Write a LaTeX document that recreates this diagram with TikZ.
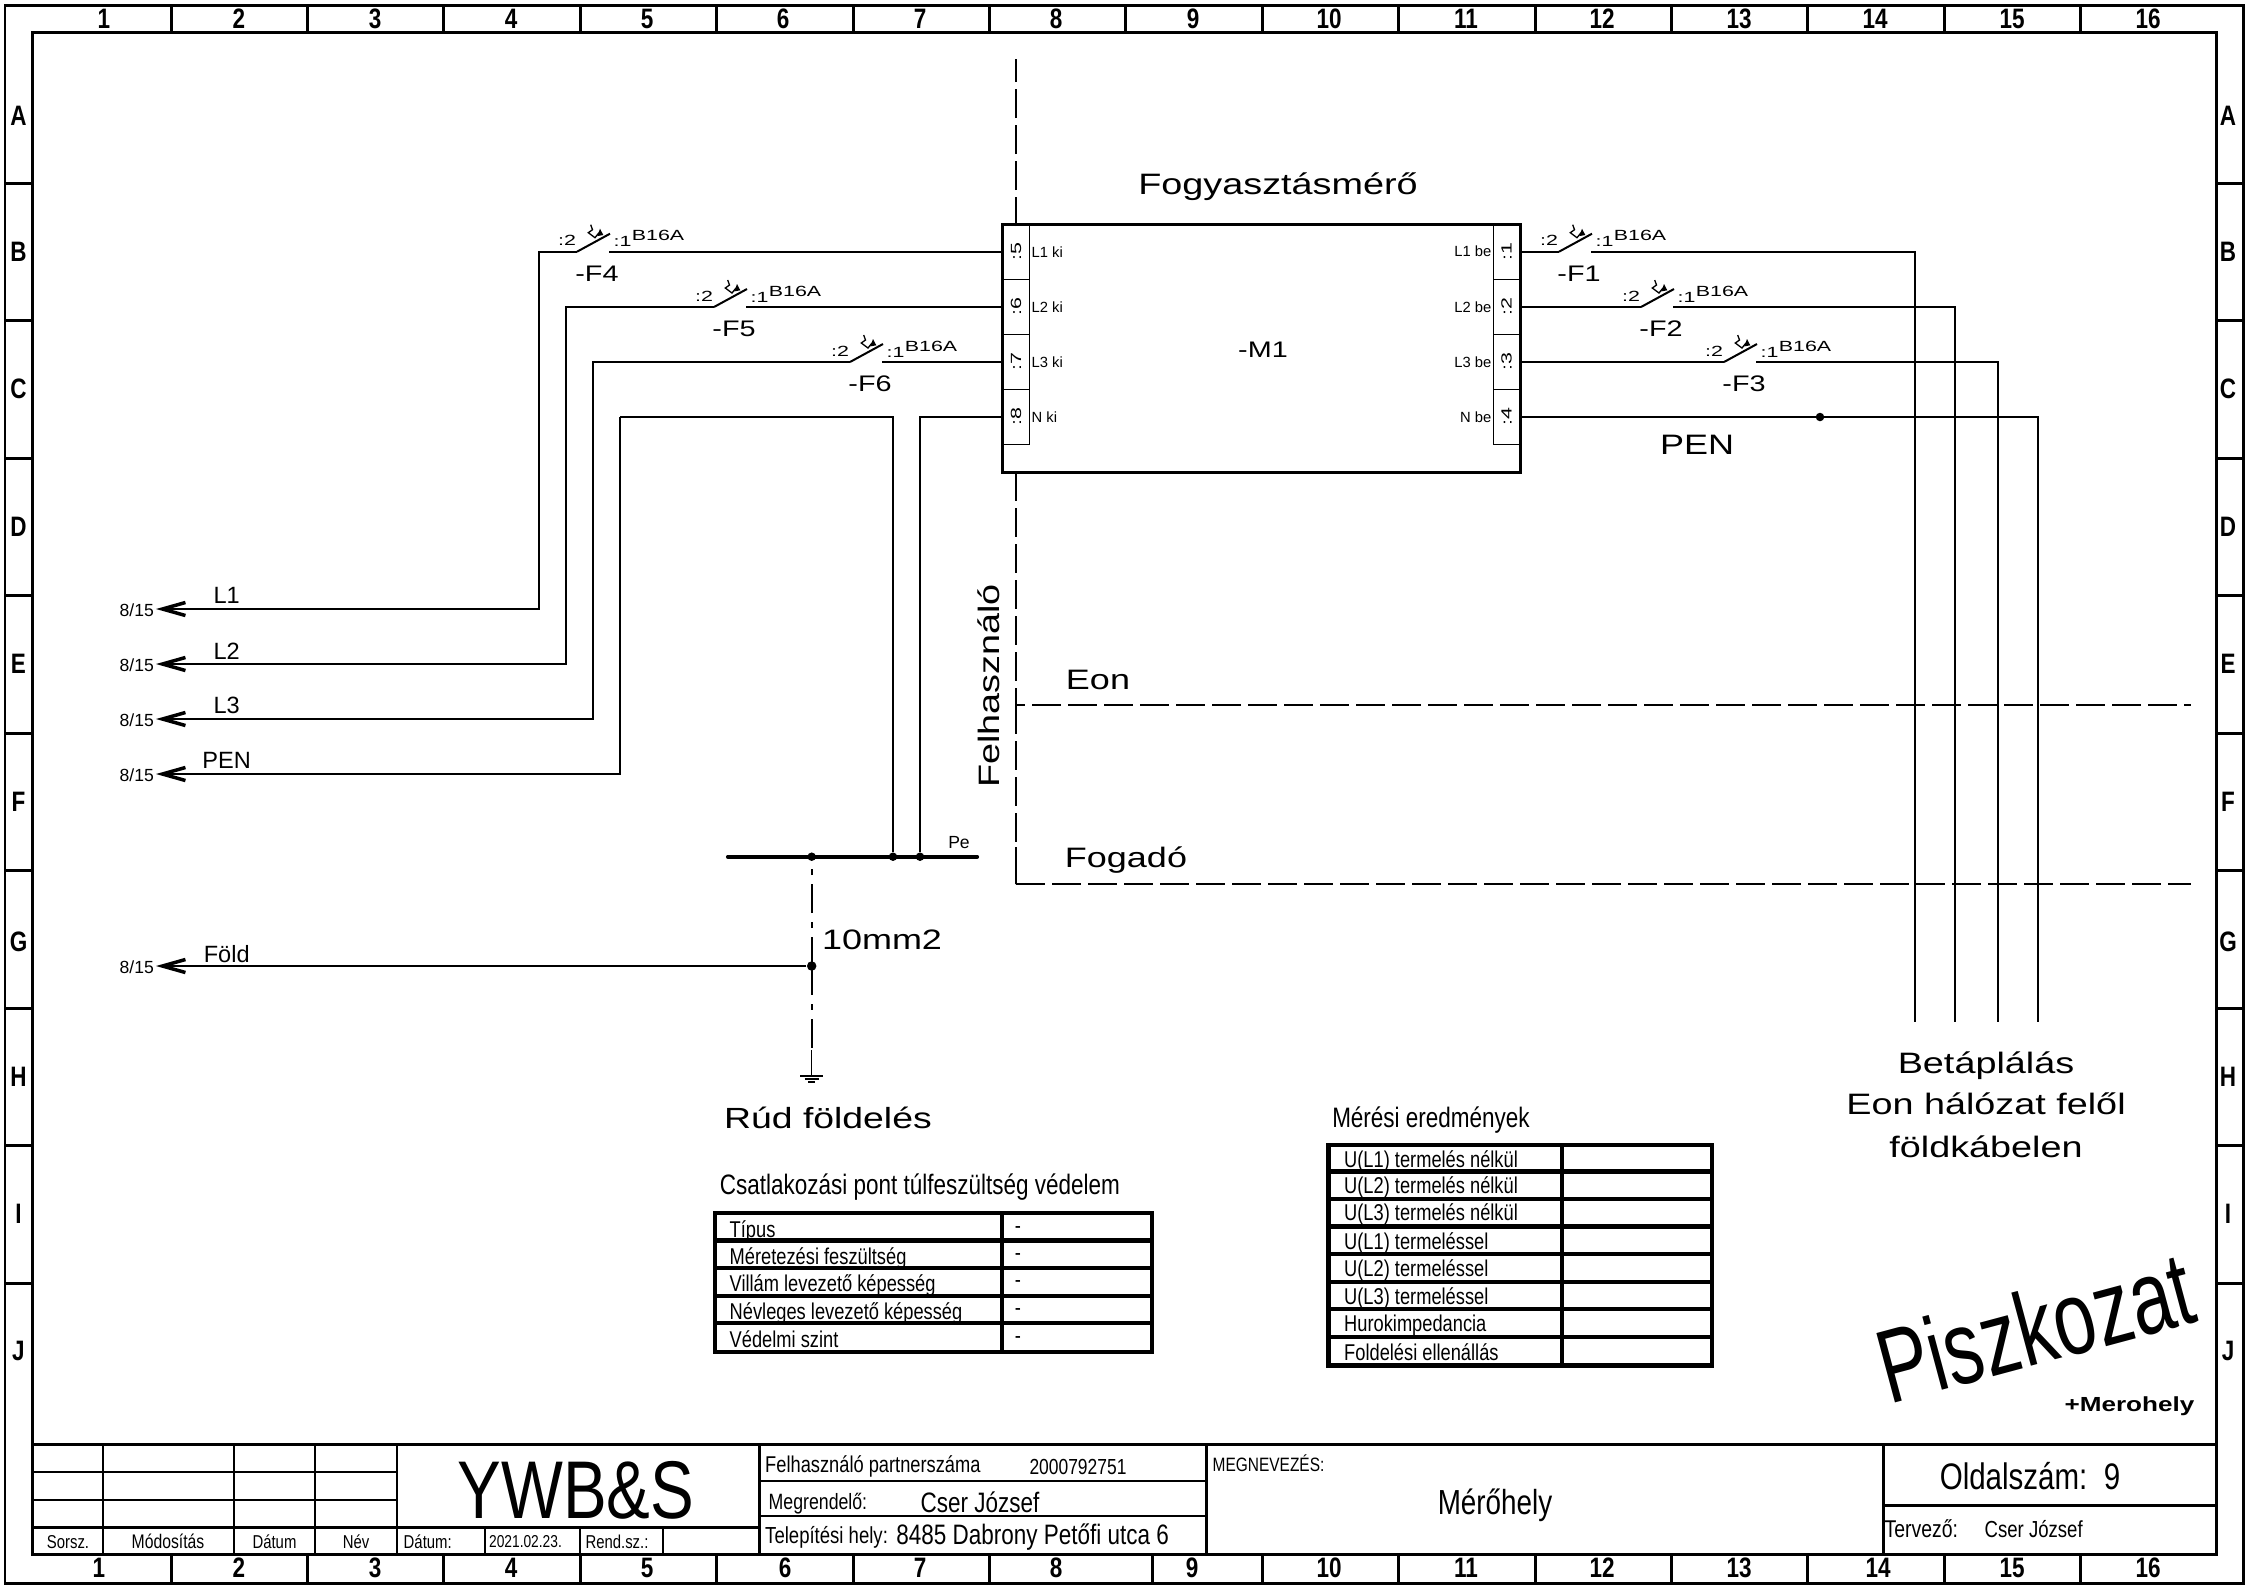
\documentclass[tikz,border=0pt]{standalone}
\usepackage{fontspec}
\usepackage{tikz}
\usetikzlibrary{arrows.meta}
\setmainfont{Liberation Sans}
\newfontfamily\nrw[FakeStretch=0.8]{Liberation Sans}
\newfontfamily\wde[FakeStretch=1.28]{Liberation Sans}
\newfontfamily\brd[FakeStretch=1.45]{Liberation Sans}
\newfontfamily\pisz[FakeStretch=0.72]{Liberation Sans}
\newcommand{\nf}[1]{\nrw\fontsize{#1}{#1}\selectfont}
\newcommand{\wf}[1]{\wde\fontsize{#1}{#1}\selectfont}
\newcommand{\rf}[1]{\fontsize{#1}{#1}\selectfont}
\tikzset{
wire/.style={line width=0.2mm},
thinline/.style={line width=0.13mm},
frameline/.style={line width=0.3mm},
tableline/.style={line width=0.45mm},
bdry/.style={line width=0.23mm,dash pattern=on 2.9mm off 0.7mm},
earth/.style={line width=0.23mm,dash pattern=on 2.9mm off 0.9mm on 0.6mm off 0.9mm},
lbl/.style={inner sep=0pt},
lleft/.style={inner sep=0pt,anchor=west},
lright/.style={inner sep=0pt,anchor=east},
term/.style={draw,thinline,rotate=90,inner sep=0pt,minimum width=5.53mm,minimum height=2.65mm,font=\brd\rf{4.2}},
joint/.style={circle,fill,inner sep=0pt,minimum size=0.85mm},
barb/.style={-{Straight Barb[length=2.3mm,width=1.3mm,line width=0.35mm]}},
breaker/.pic={
\coordinate (-a) at (0,0);
\coordinate (-b) at (32,0);
\draw[wire] (0,0) -- (33,-18);
\draw[thinline] (13.7,-27) -- (15.5,-22) -- (11.3,-19) -- (18,-14) -- (22,-19);
\fill (23,-23) -- (20.3,-15.6) -- (26.3,-16.7) -- cycle;
\node (-two) [lbl,font=\brd\rf{4.2}] at (-10,-11) {:2};
\node (-one) [lbl,font=\brd\rf{4.2}] at (45.5,-10) {:1};
\node (-rate) [lbl,font=\brd\rf{4.2}] at (81,-16) {B16A};
\node (-name) [lbl,font=\wf{6.4}] at (20,22) {#1};
}}
\begin{document}
\begin{tikzpicture}[x=0.1mm,y=-0.1mm]
\useasboundingbox (0,0) rectangle (2246,1588);
% sheet frame
\draw[frameline] (5,5) rectangle (2243,1583);
\draw[frameline] (32,32) rectangle (2216,1554);
\foreach \cx in {171,307.4,443.8,580.2,716.6,853,989.4,1125.8,1262.2,1398.6,1535,1671.4,1807.8,1944.2,2080.6}
\draw[frameline] (\cx,5) -- (\cx,32);
\foreach \cx in {171,307.4,443.8,580.2,716.6,853,989.4,1152,1262.2,1398.6,1535,1671.4,1807.8,1944.2,2080.6}
\draw[frameline] (\cx,1554) -- (\cx,1583);
\foreach \ry in {183,320.5,458,595.5,733,870.5,1008,1145.5,1283}{
\draw[frameline] (5,\ry) -- (32,\ry);
\draw[frameline] (2216,\ry) -- (2243,\ry);
}
\foreach \n/\tx/\bx in {1/104/99,2/239/239,3/375/375,4/511/511,5/647/647,6/783/785,7/920/920,8/1056/1056,9/1193/1192,10/1329/1329,11/1466/1466,12/1602/1602,13/1739/1739,14/1875/1878,15/2012/2012,16/2148/2148}{
\node (top\n) [lbl,font=\nf{8}\bfseries] at (\tx,19) {\n};
\node (bot\n) [lbl,font=\nf{8}\bfseries] at (\bx,1568) {\n};
}
\foreach \r/\ly in {A/116,B/252,C/389,D/527,E/664,F/802,G/942,H/1077,I/1214,J/1351}{
\node (lft\r) [lbl,font=\nf{8}\bfseries] at (18.5,\ly) {\r};
\node (rgt\r) [lbl,font=\nf{8}\bfseries] at (2228,\ly) {\r};
}
% meter
\node (m1) [draw,frameline,minimum width=51.8mm,minimum height=24.8mm,inner sep=0pt] at (1261.5,348) {};
\node (m1t) [lbl,font=\wf{6.4}] at (1263,350) {-M1};
\node (t5) [term] at (1016,251.7) {:5};
\node (t6) [term] at (1016,307) {:6};
\node (t7) [term] at (1016,362) {:7};
\node (t8) [term] at (1016,417) {:8};
\node (t1) [term] at (1506.5,251.7) {:1};
\node (t2) [term] at (1506.5,307) {:2};
\node (t3) [term] at (1506.5,362) {:3};
\node (t4) [term] at (1506.5,417) {:4};
\node (l1ki) [lleft,font=\rf{4.2}] at (1031,251.7) {L1 ki};
\node (l2ki) [lleft,font=\rf{4.2}] at (1031,307) {L2 ki};
\node (l3ki) [lleft,font=\rf{4.2}] at (1031,362) {L3 ki};
\node (nki) [lleft,font=\rf{4.2}] at (1031,417) {N ki};
\node (l1be) [lright,font=\rf{4.2}] at (1492,251.7) {L1 be};
\node (l2be) [lright,font=\rf{4.2}] at (1492,307) {L2 be};
\node (l3be) [lright,font=\rf{4.2}] at (1492,362) {L3 be};
\node (nbe) [lright,font=\rf{4.2}] at (1492,417) {N be};
\node (meter) [lbl,font=\wf{8.4}] at (1278,187) {Fogyasztásmérő};
% breakers
\pic (F4) at (577,251.7) {breaker=-F4};
\pic (F5) at (714,307) {breaker=-F5};
\pic (F6) at (850,362) {breaker=-F6};
\pic (F1) at (1559,251.7) {breaker=-F1};
\pic (F2) at (1641,307) {breaker=-F2};
\pic (F3) at (1724,362) {breaker=-F3};
% left wires
\node (a1) [lbl,font=\rf{5}] at (136.7,610) {8/15};
\node (a2) [lbl,font=\rf{5}] at (136.7,665) {8/15};
\node (a3) [lbl,font=\rf{5}] at (136.7,720) {8/15};
\node (a4) [lbl,font=\rf{5}] at (136.7,775) {8/15};
\node (a5) [lbl,font=\rf{5}] at (136.7,967) {8/15};
\coordinate (c1) at (539,251.7);
\coordinate (c2) at (566,307);
\coordinate (c3) at (593,362);
\coordinate (c4) at (620,417);
\coordinate (h1) at (156,609);
\coordinate (h2) at (156,664);
\coordinate (h3) at (156,719);
\coordinate (h4) at (156,774);
\coordinate (h5) at (156,966);
\draw[wire,barb] (F4-a) -- (c1) |- (h1);
\draw[wire,barb] (F5-a) -- (c2) |- (h2);
\draw[wire,barb] (F6-a) -- (c3) |- (h3);
\draw[wire,barb] (c4) |- (h4);
\draw[wire] (t5.north) -- (F4-b);
\draw[wire] (t6.north) -- (F5-b);
\draw[wire] (t7.north) -- (F6-b);
\node (w1) [lbl,font=\rf{6.7}] at (226.7,595.7) {L1};
\node (w2) [lbl,font=\rf{6.7}] at (226.7,651.7) {L2};
\node (w3) [lbl,font=\rf{6.7}] at (226.7,705.7) {L3};
\node (w4) [lbl,font=\rf{6.7}] at (226.7,760.7) {PEN};
\node (w5) [lbl,font=\rf{6.7}] at (226.7,954) {Föld};
% bus and earth
\coordinate (busl) at (728,856.7);
\coordinate (busr) at (977,856.7);
\draw[line width=0.42mm,line cap=round] (busl) -- (busr);
\node (j1) [joint] at (811.7,856.7) {};
\node (j2) [joint] at (893,856.7) {};
\node (j3) [joint] at (920,856.7) {};
\node (j4) [joint,minimum size=0.95mm] at (811.7,966) {};
\node (pe) [lbl,font=\rf{5}] at (959,842.7) {Pe};
\coordinate (n1) at (893,417);
\coordinate (n2) at (920,417);
\draw[wire] (c4) -- (n1) -- (j2);
\draw[wire] (t8.north) -- (n2) -- (j3);
\draw[wire,barb] (j4) -- (h5);
\coordinate (g1) at (811.7,1050);
\coordinate (g2) at (811.7,1076);
\draw[earth] (j4.center) -- (j1);
\draw[earth] (j4.center) -- (g1);
\draw[thinline] (g1) -- (g2);
\draw[wire] (800,1076) -- (823,1076);
\draw[thinline] (804.7,1079) -- (818.7,1079);
\draw[wire] (808,1082) -- (815.4,1082);
\node (section) [lbl,font=\wf{8}] at (882,940) {10mm2};
\node (rod) [lbl,font=\wf{8.3}] at (828,1118) {Rúd földelés};
% right wires
\coordinate (r1) at (1915,251.7);
\coordinate (r2) at (1955,307);
\coordinate (r3) at (1998,362);
\coordinate (r4) at (2038,417);
\coordinate (e1) at (1915,1022);
\coordinate (e2) at (1955,1022);
\coordinate (e3) at (1998,1022);
\coordinate (e4) at (2038,1022);
\draw[wire] (t1.south) -- (F1-a);
\draw[wire] (t2.south) -- (F2-a);
\draw[wire] (t3.south) -- (F3-a);
\draw[wire] (F1-b) -- (r1) -- (e1);
\draw[wire] (F2-b) -- (r2) -- (e2);
\draw[wire] (F3-b) -- (r3) -- (e3);
\draw[wire] (t4.south) -- (r4) -- (e4);
\node (j5) [joint] at (1820,417) {};
\node (pen) [lbl,font=\wf{8}] at (1697,445) {PEN};
\node (in1) [lbl,font=\wf{8.4}] at (1986,1066) {Betáplálás};
\node (in2) [lbl,font=\wf{8.4}] at (1986,1104) {Eon hálózat felől};
\node (in3) [lbl,font=\wf{8.4}] at (1986,1147) {földkábelen};
% boundaries
\coordinate (v0) at (1016,59);
\coordinate (v1) at (1016,226);
\coordinate (v2) at (1016,472);
\coordinate (v3) at (1016,705);
\coordinate (v4) at (1016,847);
\coordinate (v5) at (1016,884);
\coordinate (eonr) at (2191,705);
\coordinate (fogr) at (2191,884);
\draw[bdry] (v1) -- (v0);
\draw[bdry] (v2) -- (v3);
\draw[bdry] (v3) -- (v4);
\draw[bdry,dash pattern=on 3.7mm off 0mm] (v4) -- (v5);
\draw[bdry,dash phase=2mm] (v3) -- (eonr);
\draw[bdry] (v5) -- (fogr);
\node (user) [lbl,rotate=90,font=\wf{8.4}] at (989,686) {Felhasználó};
\node (eon) [lbl,font=\wf{8}] at (1098,680) {Eon};
\node (fog) [lbl,font=\wf{8}] at (1126,860) {Fogadó};
% surge table
\node (surge) [lbl,font=\nf{8}] at (920,1187) {Csatlakozási pont túlfeszültség védelem};
\draw[tableline] (715,1213) rectangle (1152,1352);
\draw[tableline] (1002,1213) -- (1002,1352);
\foreach \ry in {1240.7,1268,1296,1323} \draw[tableline] (715,\ry) -- (1152,\ry);
\foreach \i/\ry/\t in {1/1231/Típus,2/1258/Méretezési feszültség,3/1285/Villám levezető képesség,4/1313/Névleges levezető képesség,5/1339/Védelmi szint}{
\node (sa\i) [lleft,font=\nf{6.5}] at (729,\ry) {\t};
}
\foreach \i/\ry in {1/1230,2/1257,3/1284,4/1312,5/1340}
\node (sb\i) [lbl,font=\nf{6.5}] at (1018,\ry) {-};
% measure table
\node (meas) [lbl,font=\nf{8}] at (1431,1120) {Mérési eredmények};
\draw[tableline] (1328.6,1145) rectangle (1712,1365.7);
\draw[tableline] (1562,1145) -- (1562,1365.7);
\foreach \ry in {1171.7,1199,1226.7,1254,1282,1309,1337} \draw[tableline] (1328.6,\ry) -- (1712,\ry);
\foreach \i/\ry/\t in {1/1161/U(L1) termelés nélkül,2/1187/U(L2) termelés nélkül,3/1214/U(L3) termelés nélkül,4/1243/U(L1) termeléssel,5/1270/U(L2) termeléssel,6/1298/U(L3) termeléssel,7/1326/Hurokimpedancia,8/1352/Foldelési ellenállás}
\node (ma\i) [lleft,font=\nf{6.5}] at (1343.5,\ry) {\t};
% stamp
\node (draft) [lbl,rotate=15,font=\pisz\rf{29.7}] at (2035,1327) {Piszkozat};
\node (place) [lright,font=\wf{5.8}\bfseries] at (2195,1406.7) {+Merohely};
% title block
\draw[frameline] (32,1444) -- (2216,1444);
\foreach \ry in {1472,1500} \draw[wire] (32,\ry) -- (397,\ry);
\draw[frameline] (32,1527) -- (760,1527);
\foreach \cx in {103,234,315,397} \draw[wire] (\cx,1444) -- (\cx,1554);
\foreach \cx in {485,580,663} \draw[wire] (\cx,1527) -- (\cx,1554);
\draw[frameline] (759,1444) -- (759,1554);
\draw[frameline] (1206,1444) -- (1206,1554);
\draw[frameline] (1883,1444) -- (1883,1554);
\draw[wire] (759,1481) -- (1206,1481);
\draw[wire] (759,1516) -- (1206,1516);
\draw[frameline] (1883,1505) -- (2216,1505);
\node (c1t) [lbl,font=\nf{5.3}] at (68,1541.7) {Sorsz.};
\node (c2t) [lbl,font=\nf{5.6}] at (168,1541.7) {Módosítás};
\node (c3t) [lbl,font=\nf{5.3}] at (274.5,1541.7) {Dátum};
\node (c4t) [lbl,font=\nf{5.3}] at (356,1541.7) {Név};
\node (d1) [lleft,font=\nf{5.3}] at (403,1541.7) {Dátum:};
\node (d2) [lbl,font=\nf{4.9}] at (525.5,1541.7) {2021.02.23.};
\node (d3) [lbl,font=\nf{5.3}] at (617,1541.7) {Rend.sz.:};
\node (logo) [lbl,font=\nf{23.3}] at (576,1490) {YWB\&S};
\node (p1) [lleft,font=\nf{6.5}] at (764.5,1466.7) {Felhasználó partnerszáma};
\node (p2) [lbl,font=\nf{6.2}] at (1078,1466.7) {2000792751};
\node (p3) [lleft,font=\nf{6.3}] at (768,1504) {Megrendelő:};
\node (p4) [lbl,font=\nf{8}] at (980,1502) {Cser József};
\node (p5) [lleft,font=\nf{6.6}] at (764.5,1537) {Telepítési hely:};
\node (p6) [lleft,font=\nf{8}] at (895.6,1537) {8485 Dabrony Petőfi utca 6};
\node (p7) [lleft,font=\nf{5.5}] at (1212,1463) {MEGNEVEZÉS:};
\node (p8) [lbl,font=\nf{9.9}] at (1495,1505) {Mérőhely};
\node (p9) [lbl,font=\nf{10.5}] at (2030,1476) {Oldalszám:\ \ 9};
\node (p10) [lleft,font=\nf{6.9}] at (1884,1529) {Tervező:};
\node (p11) [lleft,font=\nf{6.6}] at (1984,1529) {Cser József};
\end{tikzpicture}
\end{document}
